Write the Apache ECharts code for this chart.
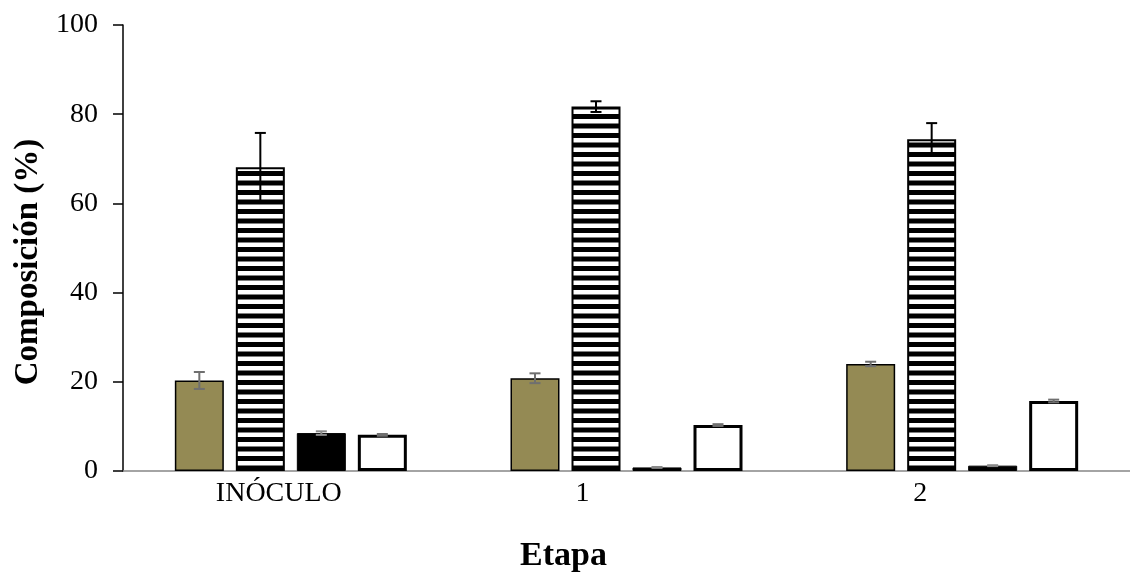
<!DOCTYPE html>
<html>
<head>
<meta charset="utf-8">
<script src="https://cdn.jsdelivr.net/npm/echarts@6/dist/echarts.min.js"></script>
<style>html,body{margin:0;padding:0;background:#fff}#c{width:1130px;height:581px}</style>
</head>
<body>
<div id="c"></div>
<script>
const categories = ['INÓCULO', '1', '2'];
const yTicks = [0, 20, 40, 60, 80, 100];
const oliveValues = [20.3, 20.8, 24.0];
const oliveErrors = [1.9, 1.1, 0.5];
const stripedValues = [68.1, 81.7, 74.4];
const stripedErrors = [7.7, 1.2, 3.6];
const blackValues = [8.5, 0.8, 1.2];
const blackErrors = [0.4, 0.1, 0.1];
const whiteValues = [8.1, 10.3, 15.7];
const whiteErrors = [0.2, 0.2, 0.3];

const FONT = '"Liberation Serif", "Times New Roman", serif';
const TICK_FS = 28, TITLE_FS = 34;
const BAR_W = 49, GAP = 12, PITCH = BAR_W + GAP;

// horizontal stripe pattern
const pc = document.createElement('canvas');
pc.width = 8; pc.height = 19;
const g = pc.getContext('2d');
g.fillStyle = '#ffffff'; g.fillRect(0, 0, 8, 19);
g.fillStyle = '#000000';
g.fillRect(0, 0, 8, 5);
g.fillRect(0, 9.5, 8, 5);

function errSeries(values, errors, idx, color, width) {
  const off = (idx - 1.5) * PITCH;
  return {
    type: 'custom',
    z: 10,
    data: categories.map((c, i) => [i, values[i], errors[i]]),
    renderItem(params, api) {
      const x = api.value(0), v = api.value(1), e = api.value(2);
      const t = api.coord([x, v + e]);
      const b = api.coord([x, Math.max(0, v - e)]);
      const cx = t[0] + off;
      const st = { stroke: color, lineWidth: width };
      return {
        type: 'group',
        children: [
          { type: 'line', shape: { x1: cx, y1: t[1], x2: cx, y2: b[1] }, style: st },
          { type: 'line', shape: { x1: cx - 5.5, y1: t[1], x2: cx + 5.5, y2: t[1] }, style: st },
          { type: 'line', shape: { x1: cx - 5.5, y1: b[1], x2: cx + 5.5, y2: b[1] }, style: st }
        ]
      };
    }
  };
}

const labelShift = [24, 88, 84];
const richLabels = {};
labelShift.forEach((p, i) => {
  richLabels['s' + i] = { fontFamily: FONT, fontSize: TICK_FS, color: '#000', padding: [0, p, 0, 0] };
});

const chart = echarts.init(document.getElementById('c'));
chart.setOption({
  animation: false,
  backgroundColor: '#ffffff',
  grid: { left: 123, right: 0, top: 25, bottom: 110, containLabel: false },
  xAxis: {
    type: 'category',
    data: categories,
    axisLine: { lineStyle: { color: '#868686', width: 1.5 } },
    axisTick: { show: false },
    axisLabel: {
      margin: 9,
      fontFamily: FONT, fontSize: TICK_FS, color: '#000',
      formatter: v => '{s' + categories.indexOf(v) + '|' + v + '}',
      rich: richLabels
    },
    name: 'Etapa',
    nameLocation: 'middle',
    nameGap: 68,
    nameTextStyle: { fontFamily: FONT, fontSize: TITLE_FS, fontWeight: 'bold', color: '#000', padding: [0, 126, 0, 0] }
  },
  yAxis: {
    type: 'value',
    min: yTicks[0], max: yTicks[yTicks.length - 1], interval: 20,
    splitLine: { show: false },
    axisLine: { show: true, lineStyle: { color: '#000', width: 1.5 } },
    axisTick: { show: true, length: 10, lineStyle: { color: '#000', width: 1.5 } },
    axisLabel: { margin: 25, fontFamily: FONT, fontSize: TICK_FS, color: '#000' },
    name: 'Composición (%)',
    nameLocation: 'middle',
    nameGap: 76,
    nameTextStyle: { fontFamily: FONT, fontSize: 33, fontWeight: 'bold', color: '#000', padding: [0, 28, 0, 0] }
  },
  series: [
    { type: 'bar', data: oliveValues, barWidth: BAR_W, barGap: (GAP / BAR_W * 100) + '%',
      itemStyle: { color: '#948A54', borderColor: '#000', borderWidth: 1.5 } },
    { type: 'bar', data: stripedValues, barWidth: BAR_W,
      itemStyle: { color: { image: pc, repeat: 'repeat' }, borderColor: '#000', borderWidth: 2 } },
    { type: 'bar', data: blackValues, barWidth: BAR_W,
      itemStyle: { color: '#000', borderColor: '#000', borderWidth: 1 } },
    { type: 'bar', data: whiteValues, barWidth: BAR_W,
      itemStyle: { color: '#fff', borderColor: '#000', borderWidth: 3 } },
    errSeries(oliveValues, oliveErrors, 0, '#6f6f6f', 2),
    errSeries(stripedValues, stripedErrors, 1, '#000', 2),
    errSeries(blackValues, blackErrors, 2, '#8a8a8a', 2),
    errSeries(whiteValues, whiteErrors, 3, '#6f6f6f', 2)
  ]
});
</script>
</body>
</html>
